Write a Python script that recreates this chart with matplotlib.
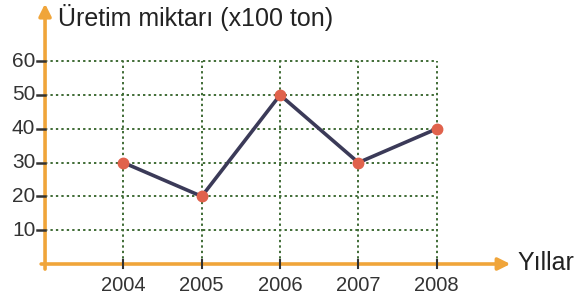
import matplotlib
matplotlib.use("Agg")
import matplotlib.pyplot as plt

# ==============================
# Data
# ==============================
years = [2004, 2005, 2006, 2007, 2008]
production = [30, 20, 50, 30, 40]
y_ticks = [10, 20, 30, 40, 50, 60]

AXIS_COLOR = "#f0a53a"
GRID_COLOR = "#3f6b35"
LINE_COLOR = "#3b3a58"
MARK_COLOR = "#e0624c"

plt.rcParams["font.family"] = ["Liberation Sans", "DejaVu Sans"]

fig = plt.figure(figsize=(5.77, 3.0), dpi=100)
ax = fig.add_axes([0, 0, 1, 1])
ax.set_xlim(2003 - 0.575, 2003 + 6.79)
ax.set_ylim(-10.65, 78.1)
ax.axis("off")

x0 = 2003
x_end = years[-1]

# grid
for v in y_ticks:
    ax.plot([x0, x_end], [v, v], color=GRID_COLOR, lw=1.4, ls=(0, (1.2, 1.6)), zorder=1)
    ax.plot([x0 - 0.1, x0], [v, v], color="#333333", lw=1.8, zorder=3)
    ax.text(x0 - 0.125, v, str(v), ha="right", va="center", fontsize=15, color="#333333")
for yr in years:
    ax.plot([yr, yr], [0, y_ticks[-1]], color=GRID_COLOR, lw=1.4, ls=(0, (1.2, 1.6)), zorder=1)
    ax.plot([yr, yr], [-1.3, 1.3], color="#333333", lw=1.5, zorder=3)
    ax.text(yr, -6.4, str(yr), ha="center", va="center", fontsize=14.5, color="#333333")

# axes with arrows
ax.annotate("", xy=(2003 + 5.94, 0), xytext=(x0 - 0.05, 0),
            arrowprops=dict(arrowstyle="-|>", color=AXIS_COLOR, lw=2.6,
                            mutation_scale=18, shrinkA=0, shrinkB=0), zorder=2)
ax.annotate("", xy=(x0, 77.0), xytext=(x0, -1.5),
            arrowprops=dict(arrowstyle="-|>", color=AXIS_COLOR, lw=2.6,
                            mutation_scale=18, shrinkA=0, shrinkB=0), zorder=2)

ax.text(2003 + 6.03, 0.3, "Yıllar", ha="left", va="center", fontsize=18, color="#222222")
ax.text(x0 + 0.16, 73.0, "Üretim miktarı (x100 ton)", ha="left", va="center",
        fontsize=18, color="#222222")

# series
ax.plot(years, production, color=LINE_COLOR, lw=2.6, zorder=4)
ax.plot(years, production, "o", color=MARK_COLOR, ms=7.5, zorder=5)

fig.savefig("out.png", dpi=100)
